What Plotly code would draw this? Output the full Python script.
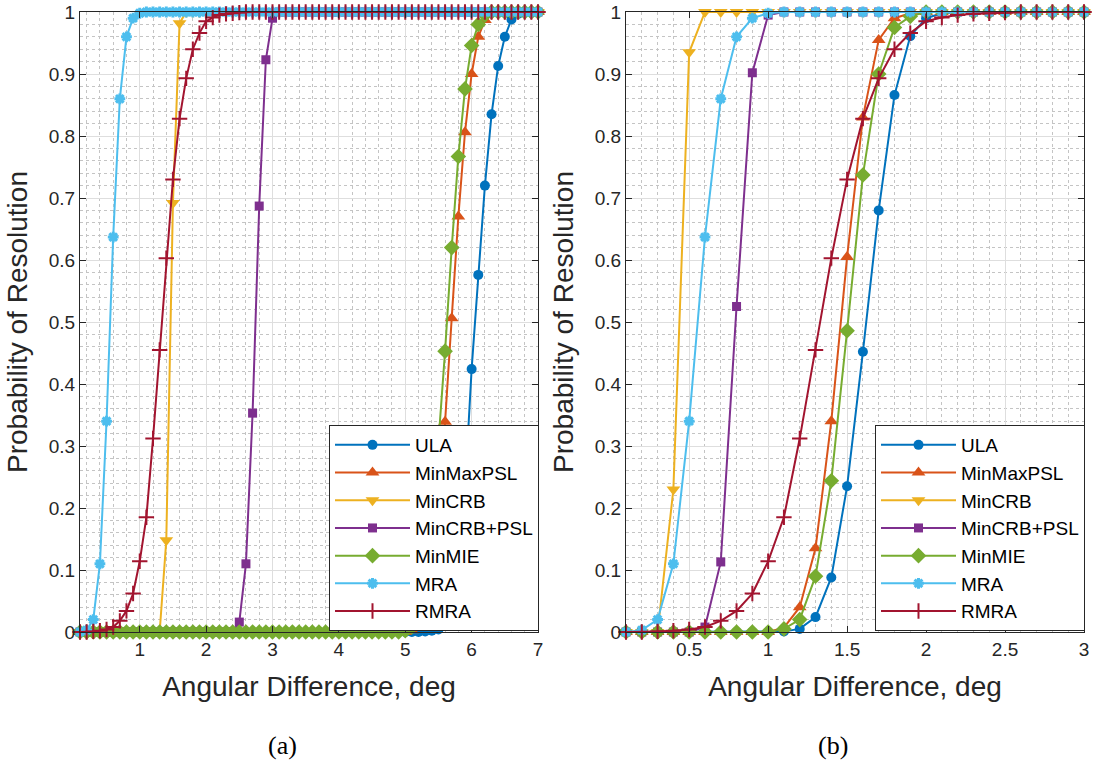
import plotly.graph_objects as go

# ---------------- data ----------------
angle_a = [round(0.1 * k, 1) for k in range(1, 71)]   # 0.1 .. 7.0 deg
angle_b = [round(0.1 * k, 1) for k in range(1, 31)]   # 0.1 .. 3.0 deg

series_names = ["ULA", "MinMaxPSL", "MinCRB", "MinCRB+PSL", "MinMIE", "MRA", "RMRA"]

ula_a = [0, 0, 0, 0, 0, 0, 0, 0, 0, 0,
         0, 0, 0, 0, 0, 0, 0, 0, 0, 0,
         0, 0, 0, 0, 0, 0, 0, 0, 0, 0,
         0, 0, 0, 0, 0, 0, 0, 0, 0, 0,
         0, 0, 0, 0, 0, 0, 0, 0, 0, 0,
         0, 0, 0.001, 0.002, 0.004, 0.012, 0.035, 0.10, 0.23, 0.424,
         0.576, 0.72, 0.835, 0.913, 0.96, 0.988, 0.997, 1, 1, 1]
minmaxpsl_a = [0, 0, 0, 0, 0, 0, 0, 0, 0, 0,
               0, 0, 0, 0, 0, 0, 0, 0, 0, 0,
               0, 0, 0, 0, 0, 0, 0, 0, 0, 0,
               0, 0, 0, 0, 0, 0, 0, 0, 0, 0,
               0, 0, 0, 0, 0, 0, 0, 0, 0, 0,
               0.003, 0.01, 0.03, 0.08, 0.19, 0.339, 0.506, 0.67, 0.806, 0.90,
               0.96, 0.987, 0.997, 1, 1, 1, 1, 1, 1, 1]
mincrb_a = [0, 0, 0, 0, 0, 0, 0, 0, 0, 0,
            0, 0, 0, 0.148, 0.692, 0.982, 1, 1, 1, 1,
            1, 1, 1, 1, 1, 1, 1, 1, 1, 1,
            1, 1, 1, 1, 1, 1, 1, 1, 1, 1,
            1, 1, 1, 1, 1, 1, 1, 1, 1, 1,
            1, 1, 1, 1, 1, 1, 1, 1, 1, 1,
            1, 1, 1, 1, 1, 1, 1, 1, 1, 1]
mincrbpsl_a = [0, 0, 0, 0, 0, 0, 0, 0, 0, 0,
               0, 0, 0, 0, 0, 0, 0, 0, 0, 0,
               0, 0, 0, 0, 0.016, 0.11, 0.353, 0.687, 0.923, 0.99,
               1, 1, 1, 1, 1, 1, 1, 1, 1, 1,
               1, 1, 1, 1, 1, 1, 1, 1, 1, 1,
               1, 1, 1, 1, 1, 1, 1, 1, 1, 1,
               1, 1, 1, 1, 1, 1, 1, 1, 1, 1]
minmie_a = [0, 0, 0, 0, 0, 0, 0, 0, 0, 0,
            0, 0, 0, 0, 0, 0, 0, 0, 0, 0,
            0, 0, 0, 0, 0, 0, 0, 0, 0, 0,
            0, 0, 0, 0, 0, 0, 0, 0, 0, 0,
            0, 0, 0, 0, 0, 0, 0, 0, 0, 0.002,
            0.008, 0.025, 0.07, 0.16, 0.30, 0.453, 0.62, 0.767, 0.876, 0.946,
            0.98, 0.995, 1, 1, 1, 1, 1, 1, 1, 1]
mra_a = [0, 0.003, 0.02, 0.11, 0.34, 0.637, 0.86, 0.96, 0.99, 0.998,
         1, 1, 1, 1, 1, 1, 1, 1, 1, 1,
         1, 1, 1, 1, 1, 1, 1, 1, 1, 1,
         1, 1, 1, 1, 1, 1, 1, 1, 1, 1,
         1, 1, 1, 1, 1, 1, 1, 1, 1, 1,
         1, 1, 1, 1, 1, 1, 1, 1, 1, 1,
         1, 1, 1, 1, 1, 1, 1, 1, 1, 1]
rmra_a = [0, 0, 0.001, 0.002, 0.004, 0.008, 0.018, 0.034, 0.062, 0.114,
          0.185, 0.312, 0.455, 0.603, 0.73, 0.828, 0.893, 0.94, 0.966, 0.985,
          0.991, 0.995, 0.997, 0.998, 0.999, 1, 1, 1, 1, 1,
          1, 1, 1, 1, 1, 1, 1, 1, 1, 1,
          1, 1, 1, 1, 1, 1, 1, 1, 1, 1,
          1, 1, 1, 1, 1, 1, 1, 1, 1, 1,
          1, 1, 1, 1, 1, 1, 1, 1, 1, 1]

ula_b = [0, 0, 0, 0, 0, 0, 0, 0, 0, 0,
         0.001, 0.005, 0.024, 0.088, 0.235, 0.452, 0.68, 0.866, 0.961, 0.99,
         0.998, 1, 1, 1, 1, 1, 1, 1, 1, 1]
minmaxpsl_b = [0, 0, 0, 0, 0, 0, 0, 0, 0, 0,
               0.007, 0.04, 0.135, 0.34, 0.605, 0.83, 0.955, 0.99, 0.998, 1,
               1, 1, 1, 1, 1, 1, 1, 1, 1, 1]
mincrb_b = [0, 0, 0, 0.23, 0.935, 1, 1, 1, 1, 1,
            1, 1, 1, 1, 1, 1, 1, 1, 1, 1,
            1, 1, 1, 1, 1, 1, 1, 1, 1, 1]
mincrbpsl_b = [0, 0, 0, 0, 0, 0.008, 0.113, 0.525, 0.902, 0.995,
               1, 1, 1, 1, 1, 1, 1, 1, 1, 1,
               1, 1, 1, 1, 1, 1, 1, 1, 1, 1]
minmie_b = [0, 0, 0, 0, 0, 0, 0, 0, 0, 0,
            0.005, 0.02, 0.09, 0.244, 0.486, 0.737, 0.90, 0.975, 0.993, 1,
            1, 1, 1, 1, 1, 1, 1, 1, 1, 1]
mra_b = [0, 0.003, 0.02, 0.11, 0.34, 0.637, 0.86, 0.96, 0.99, 0.998,
         1, 1, 1, 1, 1, 1, 1, 1, 1, 1,
         1, 1, 1, 1, 1, 1, 1, 1, 1, 1]
rmra_b = [0, 0, 0.001, 0.002, 0.004, 0.008, 0.018, 0.034, 0.062, 0.114,
          0.185, 0.312, 0.455, 0.603, 0.73, 0.828, 0.893, 0.94, 0.966, 0.985,
          0.991, 0.995, 0.997, 0.998, 0.999, 1, 1, 1, 1, 1]

x_ticks_a = [1, 2, 3, 4, 5, 6, 7]
x_ticks_b = [0.5, 1, 1.5, 2, 2.5, 3]
y_ticks = [0, 0.1, 0.2, 0.3, 0.4, 0.5, 0.6, 0.7, 0.8, 0.9, 1]
y_tick_text = ["0", "0.1", "0.2", "0.3", "0.4", "0.5", "0.6", "0.7", "0.8", "0.9", "1"]

# ---------------- styles ----------------
colors = ["#0072BD", "#D95319", "#EDB120", "#7E2F8E", "#77AC30", "#4DBEEE", "#A2142F"]
symbols = ["circle", "triangle-up", "triangle-down", "square", "diamond",
           "asterisk-open", "cross-thin-open"]
sizes = [10, 12, 12, 9, 12, 9, 11]
line_w = [0, 0, 0, 0, 0, 3, 2]

panel_a = [ula_a, minmaxpsl_a, mincrb_a, mincrbpsl_a, minmie_a, mra_a, rmra_a]
panel_b = [ula_b, minmaxpsl_b, mincrb_b, mincrbpsl_b, minmie_b, mra_b, rmra_b]

FONT = "Liberation Sans, Arial, sans-serif"
AX = "#262626"

fig = go.Figure()


def add_panel(xs, data, xa, ya, legend_name):
    for i, (name, ys) in enumerate(zip(series_names, data)):
        fig.add_trace(go.Scatter(
            x=xs, y=ys, name=name, mode="lines+markers",
            xaxis=xa, yaxis=ya, legend=legend_name,
            cliponaxis=False,
            line=dict(color=colors[i], width=2),
            marker=dict(symbol=symbols[i], size=sizes[i], color=colors[i],
                        line=dict(color=colors[i], width=line_w[i])),
        ))


add_panel(angle_a, panel_a, "x", "y", "legend")
add_panel(angle_b, panel_b, "x2", "y2", "legend2")

W, H = 1099, 762


def px_x(p):
    return p / W


def px_y(p):
    return 1 - p / H


dom_y = [px_y(632), px_y(12)]
dom_xa = [px_x(80), px_x(538)]
dom_xb = [px_x(626), px_x(1084)]

MINOR_COL = "#c4c4c4"


def axis_common():
    return dict(
        showline=True, linecolor=AX, linewidth=1, mirror="ticks",
        ticks="inside", ticklen=6, tickcolor=AX, tickwidth=1,
        showgrid=True, gridcolor="#dedede", gridwidth=1,
        zeroline=False, automargin=False,
        tickfont=dict(family=FONT, size=19, color=AX),
    )


title_font = dict(family=FONT, size=28, color=AX)

xa = axis_common()
xa.update(domain=dom_xa, range=[0.1, 7], tickvals=x_ticks_a, anchor="y",
          minor=dict(dtick=0.2, tick0=0, showgrid=True, gridcolor=MINOR_COL,
                     griddash="dot", gridwidth=1, ticks=""),
          title=dict(text="Angular Difference, deg", font=title_font, standoff=17))
xb = axis_common()
xb.update(domain=dom_xb, range=[0.1, 3], tickvals=x_ticks_b, anchor="y2",
          minor=dict(dtick=0.1, tick0=0, showgrid=True, gridcolor=MINOR_COL,
                     griddash="dot", gridwidth=1, ticks=""),
          title=dict(text="Angular Difference, deg", font=title_font, standoff=17))
ya = axis_common()
ya.update(domain=dom_y, range=[0, 1], tickvals=y_ticks, ticktext=y_tick_text, anchor="x",
          minor=dict(dtick=0.02, tick0=0, showgrid=True, gridcolor=MINOR_COL,
                     griddash="dot", gridwidth=1, ticks=""),
          title=dict(text="Probability of Resolution", font=title_font, standoff=12))
yb = axis_common()
yb.update(domain=dom_y, range=[0, 1], tickvals=y_ticks, ticktext=y_tick_text, anchor="x2",
          minor=dict(dtick=0.02, tick0=0, showgrid=True, gridcolor=MINOR_COL,
                     griddash="dot", gridwidth=1, ticks=""),
          title=dict(text="Probability of Resolution", font=title_font, standoff=12))

legend_common = dict(
    bgcolor="white", bordercolor=AX, borderwidth=1,
    font=dict(family=FONT, size=19, color="black"),
    xref="paper", yref="paper", xanchor="right", yanchor="bottom",
    itemwidth=75, tracegroupgap=0,
)

cap_font = dict(family="Liberation Serif, Times New Roman, serif", size=26, color="black")

fig.update_layout(
    width=W, height=H,
    margin=dict(l=0, r=0, t=0, b=0),
    paper_bgcolor="white", plot_bgcolor="white",
    showlegend=True,
    xaxis=xa, yaxis=ya, xaxis2=xb, yaxis2=yb,
    legend=dict(x=px_x(539), y=px_y(631), **legend_common),
    legend2=dict(x=px_x(1085), y=px_y(631), **legend_common),
    annotations=[
        dict(text="(a)", x=px_x(282), y=px_y(745), xref="paper", yref="paper",
             xanchor="center", yanchor="middle", showarrow=False, font=cap_font),
        dict(text="(b)", x=px_x(833), y=px_y(745), xref="paper", yref="paper",
             xanchor="center", yanchor="middle", showarrow=False, font=cap_font),
    ],
)

# remove the browser's default 8px page margin so the figure fills the window
fig.write_html("out.html",
               config={"displayModeBar": False},
               post_script="document.body.style.margin='0';document.body.style.overflow='hidden';")
